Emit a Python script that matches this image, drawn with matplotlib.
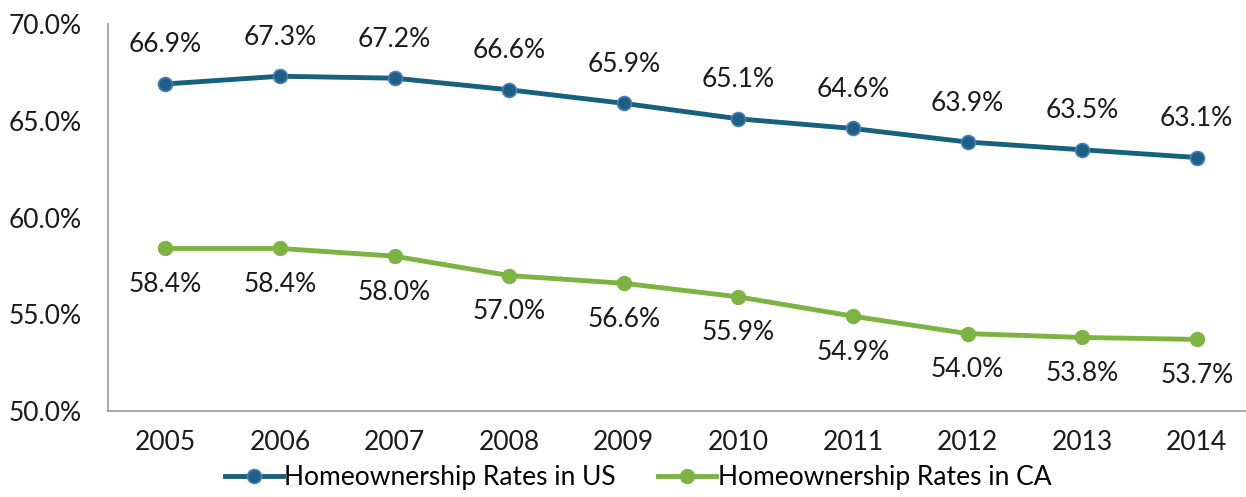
import matplotlib
matplotlib.use("Agg")
import matplotlib.pyplot as plt

years = ["2005", "2006", "2007", "2008", "2009", "2010", "2011", "2012", "2013", "2014"]
us_rates = [66.9, 67.3, 67.2, 66.6, 65.9, 65.1, 64.6, 63.9, 63.5, 63.1]
ca_rates = [58.4, 58.4, 58.0, 57.0, 56.6, 55.9, 54.9, 54.0, 53.8, 53.7]
y_ticks = [50.0, 55.0, 60.0, 65.0, 70.0]

plt.rcParams['font.family'] = ['Lato', 'DejaVu Sans']
FS = 19

fig = plt.figure(figsize=(12.46, 4.97), dpi=100)
ax = fig.add_axes([108/1246, 86/497, 1146/1246, 387/497])

x = list(range(len(years)))
us_color = "#16627d"
ca_color = "#7cb342"
ax.plot(x, us_rates, color=us_color, lw=3.5, marker="o", ms=10,
        markerfacecolor="#1d5f85", markeredgecolor="#4a7fb5", markeredgewidth=1.2,
        label="Homeownership Rates in US", zorder=3)
ax.plot(x, ca_rates, color=ca_color, lw=3.5, marker="o", ms=10,
        markerfacecolor=ca_color, markeredgecolor=ca_color,
        label="Homeownership Rates in CA", zorder=3)

for xi, v in zip(x, us_rates):
    ax.annotate(f"{v:.1f}%", (xi, v), xytext=(0, 39), textcoords="offset pixels",
                ha="center", va="center", fontsize=FS, color="#1a1a1a")
for xi, v in zip(x, ca_rates):
    ax.annotate(f"{v:.1f}%", (xi, v), xytext=(0, -36), textcoords="offset pixels",
                ha="center", va="center", fontsize=FS, color="#1a1a1a")

ax.set_xlim(-0.5, len(years) - 0.5)
ax.set_ylim(50, 70)
ax.set_xticks(x)
ax.set_xticklabels(years, fontsize=FS)
ax.set_yticks(y_ticks)
ax.set_yticklabels([f"{t:.1f}%" for t in y_ticks], fontsize=FS)
ax.tick_params(length=0, colors="#1a1a1a")
ax.tick_params(axis="y", pad=19)
ax.tick_params(axis="x", pad=14)
for s in ["top", "right"]:
    ax.spines[s].set_visible(False)
for s in ["left", "bottom"]:
    ax.spines[s].set_color("#999999")
    ax.spines[s].set_linewidth(1.2)

ax.legend(loc="center", bbox_to_anchor=(0.4625, -0.173), ncol=2, frameon=False,
          fontsize=FS, handlelength=2.2, handletextpad=0.05, columnspacing=1.6,
          borderpad=0, borderaxespad=0)

fig.savefig("out.png", dpi=100)
